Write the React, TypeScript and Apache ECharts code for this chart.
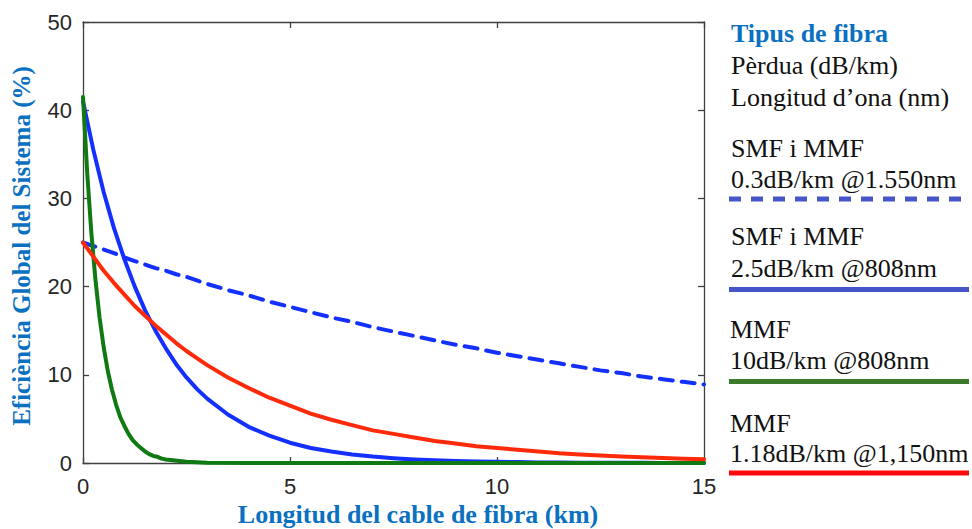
import React, { useEffect, useRef } from "react";
import * as echarts from "echarts";

// Distance along the fibre (km)
const xMain = [0, 0.25, 0.5, 0.75, 1, 1.25, 1.5, 1.75, 2, 2.25, 2.5, 2.75, 3, 3.5, 4, 4.5, 5, 5.5, 6, 6.5, 7, 7.5, 8, 8.5, 9, 9.5, 10, 10.5, 11, 11.5, 12, 12.5, 13, 13.5, 14, 14.5, 15];
const xGreen = [0, 0.1, 0.2, 0.3, 0.4, 0.5, 0.6, 0.7, 0.8, 0.9, 1.0, 1.1, 1.2, 1.3, 1.4, 1.5, 1.6, 1.7, 1.8, 1.9, 2.0, 2.5, 3, 4, 5, 6, 7, 8, 9, 10, 11, 12, 13, 14, 15];

// Efficiency (%)
const smf1550 = [25.0, 24.6, 24.2, 23.8, 23.3, 22.9, 22.5, 22.1, 21.8, 21.4, 21.1, 20.7, 20.3, 19.6, 19.0, 18.3, 17.7, 17.1, 16.5, 16.0, 15.4, 14.9, 14.4, 13.9, 13.4, 13.0, 12.5, 12.1, 11.7, 11.3, 10.9, 10.5, 10.2, 9.8, 9.5, 9.2, 8.9];
const smf808 = [41.0, 35.5, 30.7, 26.6, 23.1, 20.0, 17.3, 15.0, 13.0, 11.2, 9.7, 8.4, 7.3, 5.5, 4.1, 3.1, 2.3, 1.7, 1.3, 0.97, 0.73, 0.55, 0.41, 0.31, 0.23, 0.17, 0.13, 0.1, 0.07, 0.05, 0.04, 0.03, 0.02, 0.02, 0.01, 0.01, 0.01];
const mmf808 = [41.5, 33.0, 26.2, 20.8, 16.5, 13.1, 10.4, 8.3, 6.6, 5.2, 4.2, 3.3, 2.6, 2.1, 1.7, 1.3, 1.0, 0.8, 0.7, 0.5, 0.4, 0.13, 0.04, 0, 0, 0, 0, 0, 0, 0, 0, 0, 0, 0, 0];
const mmf1150 = [25.0, 23.4, 21.8, 20.4, 19.1, 17.8, 16.7, 15.6, 14.6, 13.6, 12.7, 11.9, 11.1, 9.7, 8.5, 7.4, 6.5, 5.6, 4.9, 4.3, 3.7, 3.3, 2.9, 2.5, 2.2, 1.9, 1.7, 1.5, 1.3, 1.1, 0.96, 0.84, 0.73, 0.64, 0.56, 0.49, 0.42];

const legendTitle = "Tipus de fibra";
const legendHeader = ["Pèrdua (dB/km)", "Longitud d’ona (nm)"];
const legendGroups = [
  { l1: "SMF i MMF", l2: "0.3dB/km @1.550nm" },
  { l1: "SMF i MMF", l2: "2.5dB/km @808nm" },
  { l1: "MMF", l2: "10dB/km @808nm" },
  { l1: "MMF", l2: "1.18dB/km @1,150nm" },
];

const SERIF = "'Liberation Serif', 'Times New Roman', serif";
const SANS = "'Liberation Sans', Arial, sans-serif";
const TITLE_BLUE = "#0a70c0";

const zip = (xs: number[], ys: number[]) => xs.map((x, i) => [x, ys[i]]);

export default function App() {
  const ref = useRef<HTMLDivElement>(null);
  useEffect(() => {
    if (!ref.current) return;
    const chart = echarts.init(ref.current, undefined, { renderer: "svg" });

    const txt = (text: string, x: number, y: number, extra: any = {}) => ({
      type: "text",
      x,
      y,
      silent: true,
      style: {
        text,
        fill: "#111",
        fontSize: 26,
        fontFamily: SERIF,
        verticalAlign: "middle",
        align: "left",
        ...extra,
      },
    });
    const lline = (y: number, color: string, dash?: number[]) => ({
      type: "line",
      silent: true,
      shape: { x1: 729, y1: y, x2: 969, y2: y },
      style: { stroke: color, lineWidth: 5, lineDash: dash || null },
    });

    const axisBase = {
      type: "value" as const,
      axisLine: { show: true, onZero: false, lineStyle: { color: "#404040", width: 1.3 } },
      axisTick: { show: true, inside: true, length: 6, lineStyle: { color: "#404040", width: 1.3 } },
      splitLine: { show: false },
    };

    const lineSeries = (data: number[][], color: string, dash?: number[]) => ({
      type: "line",
      data,
      showSymbol: false,
      smooth: false,
      lineStyle: { color, width: 4, type: dash || "solid", cap: "round", join: "round" },
    });

    chart.setOption({
      animation: false,
      backgroundColor: "#ffffff",
      grid: { left: 83, right: 268, top: 22, bottom: 66, containLabel: false },
      xAxis: [
        {
          ...axisBase,
          min: 0,
          max: 15,
          interval: 5,
          position: "bottom",
          axisLabel: { color: "#262626", fontSize: 22, fontFamily: SANS, margin: 12 },
        },
        {
          ...axisBase,
          min: 0,
          max: 15,
          interval: 5,
          position: "top",
          axisLabel: { show: false },
        },
      ],
      yAxis: [
        {
          ...axisBase,
          min: 0,
          max: 50,
          interval: 10,
          position: "left",
          axisLabel: { color: "#262626", fontSize: 22, fontFamily: SANS, margin: 11 },
        },
        {
          ...axisBase,
          min: 0,
          max: 50,
          interval: 10,
          position: "right",
          axisLabel: { show: false },
        },
      ],
      series: [
        lineSeries(zip(xMain, smf1550), "#1430ff", [13, 9]),
        lineSeries(zip(xMain, smf808), "#1430ff"),
        lineSeries(zip(xGreen, mmf808), "#0f7a12"),
        lineSeries(zip(xMain, mmf1150), "#ff2a0a"),
      ],
      graphic: [
        {
          type: "text",
          x: 21,
          y: 246,
          rotation: Math.PI / 2,
          silent: true,
          style: {
            text: "Eficiència Global del Sistema (%)",
            fill: TITLE_BLUE,
            fontSize: 25,
            fontWeight: "bold",
            fontFamily: SERIF,
            align: "center",
            verticalAlign: "middle",
          },
        },
        txt("Longitud del cable de fibra (km)", 418, 514, {
          fill: TITLE_BLUE,
          fontSize: 26,
          fontWeight: "bold",
          align: "center",
        }),
        txt(legendTitle, 731, 33, { fill: TITLE_BLUE, fontWeight: "bold" }),
        txt(legendHeader[0], 731, 65),
        txt(legendHeader[1], 731, 97),
        txt(legendGroups[0].l1, 731, 148),
        txt(legendGroups[0].l2, 731, 179),
        lline(199, "#4656c8", [12, 10]),
        txt(legendGroups[1].l1, 731, 236),
        txt(legendGroups[1].l2, 731, 268),
        lline(289.5, "#4656c8"),
        txt(legendGroups[2].l1, 730, 329),
        txt(legendGroups[2].l2, 730, 360),
        lline(381.5, "#3c7a2c"),
        txt(legendGroups[3].l1, 730, 423),
        txt(legendGroups[3].l2, 730, 453),
        lline(473, "#ff0a0a"),
      ],
    });
    return () => chart.dispose();
  }, []);
  return (
    <div
      ref={ref}
      style={{ position: "fixed", left: 0, top: 0, width: 972, height: 529, background: "#fff" }}
    />
  );
}
